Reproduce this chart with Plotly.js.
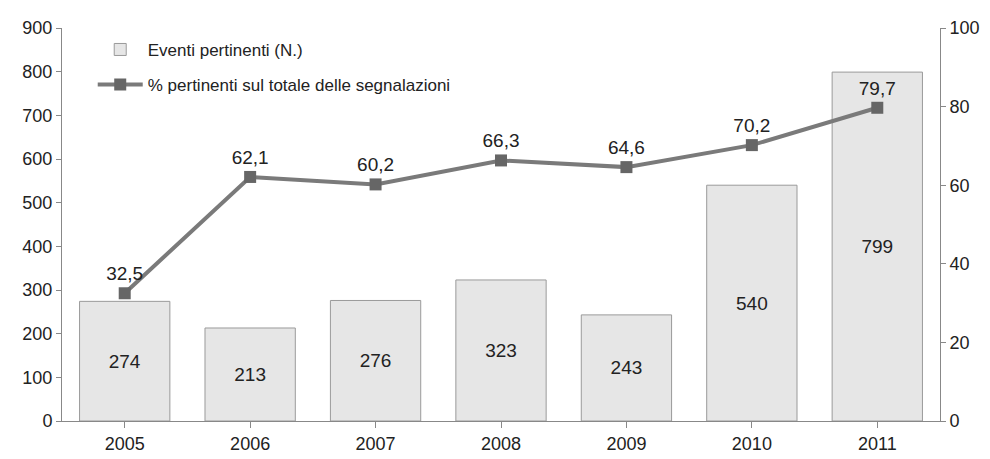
<!DOCTYPE html>
<html><head><meta charset="utf-8">
<script src="https://cdn.plot.ly/plotly-3.0.1.min.js"></script>
<style>body{margin:0;background:#fff}#c{width:990px;height:459px}</style>
</head><body><div id="c"></div>
<script>
const years = ['2005','2006','2007','2008','2009','2010','2011'];
const eventi = [274, 213, 276, 323, 243, 540, 799];
const percent = [32.5, 62.1, 60.2, 66.3, 64.6, 70.2, 79.7];
const percentLabels = ['32,5','62,1','60,2','66,3','64,6','70,2','79,7'];
const leftTicks = [0,100,200,300,400,500,600,700,800,900];
const rightTicks = [0,20,40,60,80,100];

const F = '"Liberation Sans Narrow", "Arial Narrow", "Liberation Sans", Arial, sans-serif';
const traces = [
  {type:'bar', x:years, y:eventi, name:'Eventi pertinenti (N.)', legendgroup:'a',
   text:eventi.map(String), textposition:'inside', insidetextanchor:'middle',
   textfont:{family:F, size:19, color:'#222'},
   marker:{color:'#e6e6e6', line:{color:'#9a9a9a', width:1}}, yaxis:'y', cliponaxis:false},
  {type:'scatter', mode:'lines+markers+text', x:years, y:percent, yaxis:'y2', legendgroup:'b',
   name:'% pertinenti sul totale delle segnalazioni',
   text:percentLabels, textposition:'top center',
   textfont:{family:F, size:19, color:'#222'},
   line:{color:'#7a7a7a', width:4}, marker:{symbol:'square', size:12, color:'#666'}, cliponaxis:false}
];
const layout = {
  width:990, height:459, paper_bgcolor:'#fff', plot_bgcolor:'#fff',
  margin:{l:62, r:50, t:28, b:38},
  font:{family:F, size:18, color:'#222'},
  bargap:0.28, showlegend:true,
  legend:{x:0.035, y:0.99, xanchor:'left', yanchor:'top', bgcolor:'rgba(0,0,0,0)',
          itemwidth:45, font:{family:F, size:17, color:'#222'}, tracegroupgap:10, traceorder:'grouped'},
  xaxis:{showline:true, linecolor:'#888', linewidth:1, ticks:'outside', tickson:'boundaries',
         ticklen:6, tickcolor:'#888', showgrid:false, tickfont:{family:F, size:18, color:'#222'}},
  yaxis:{range:[0,900], tickvals:leftTicks, showline:true, linecolor:'#888', ticks:'outside',
         ticklen:5, tickcolor:'#888', showgrid:false, zeroline:false, tickfont:{family:F, size:18, color:'#222'}},
  yaxis2:{range:[0,100], tickvals:rightTicks, overlaying:'y', side:'right', showline:true, linecolor:'#888',
          ticks:'outside', ticklen:5, tickcolor:'#888', showgrid:false, zeroline:false,
          tickfont:{family:F, size:18, color:'#222'}}
};
Plotly.newPlot('c', traces, layout, {displayModeBar:false, staticPlot:true});
</script></body></html>
